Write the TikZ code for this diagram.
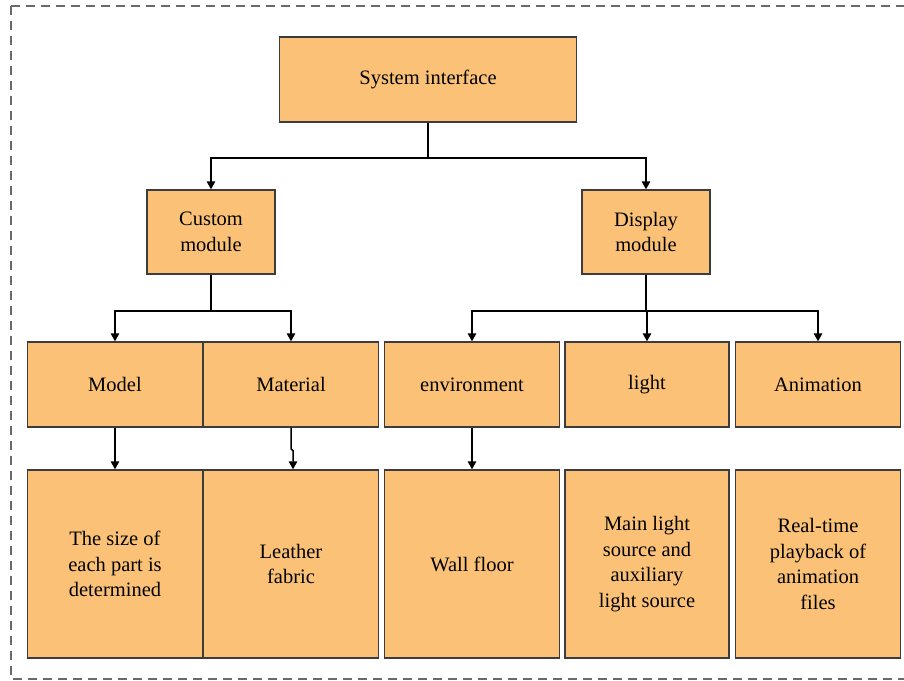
\documentclass[tikz,border=0pt]{standalone}
\usepackage{fontspec}
\setmainfont{Liberation Serif}
\usetikzlibrary{arrows.meta}
\definecolor{boxfill}{HTML}{FBC277}
\definecolor{boxline}{HTML}{3C3C3C}
\definecolor{frameline}{HTML}{6A6A6A}
\tikzset{
  blk/.style={draw=boxline, line width=1.4pt, fill=boxfill, inner sep=2pt,
    align=center, font=\fontsize{20.5}{25.5}\selectfont},
  link/.style={line width=1.5pt, -{Triangle[width=8.5pt,length=8pt]}},
  plain/.style={line width=1.5pt}
}
\begin{document}
\begin{tikzpicture}[x=1pt,y=-1pt]
\useasboundingbox (0,0) rectangle (904,680);
% outer dashed frame
\draw[frameline, line width=1.4pt, dash pattern=on 9pt off 6pt] (11,6) -- (910,6);
\draw[frameline, line width=1.4pt, dash pattern=on 9pt off 6pt] (11,6) -- (11,679) -- (910,679);

% top level
\node[blk, minimum width=297pt, minimum height=85pt] (sys) at (428,79.5) {System interface};

% modules
\node[blk, minimum width=128pt, minimum height=84pt] (cust) at (211,232) {Custom\\module};
\node[blk, minimum width=128pt, minimum height=84pt] (disp) at (646,232) {Display\\module};

% second row
\node[blk, minimum width=175pt, minimum height=85pt] (model) at (115,384.5) {Model};
\node[blk, minimum width=175pt, minimum height=85pt] (mat) at (291,384.5) {Material};
\node[blk, minimum width=175pt, minimum height=85pt] (env) at (472,384.5) {environment};
\node[blk, minimum width=164pt, minimum height=85pt] (light) at (647,384.5) {light};
\node[blk, minimum width=165pt, minimum height=85pt] (anim) at (818,384.5) {Animation};

% third row
\node[blk, minimum width=175pt, minimum height=188pt] (size) at (115,564) {The size of\\each part is\\determined};
\node[blk, minimum width=175pt, minimum height=188pt] (leather) at (291,564) {Leather\\fabric};
\node[blk, minimum width=175pt, minimum height=188pt] (wall) at (472,564) {Wall floor};
\node[blk, minimum width=164pt, minimum height=188pt] (mainl) at (647,564) {Main light\\source and\\auxiliary\\light source};
\node[blk, minimum width=165pt, minimum height=188pt] (play) at (818,564) {Real-time\\playback of\\animation\\files};

% junction points
\coordinate (j0) at (428,158);
\coordinate (j1) at (211,311);
\coordinate (j2) at (646,311);

% system interface to modules
\draw[plain] (sys.south) -- (j0);
\draw[link] (j0) -| (cust.north);
\draw[link] (j0) -| (disp.north);

% custom module branches
\draw[plain] (cust.south) -- (j1);
\draw[link] (j1) -| (model.north);
\draw[link] (j1) -| (mat.north);

% display module branches
\draw[plain] (disp.south) -- (j2);
\draw[link] (j2) -| (env.north);
\draw[link] (j2) -| (light.north);
\draw[link] (j2) -| (anim.north);

% second row to third row
\draw[link] (model.south) -- (size.north);
\draw[link] (mat.south) -- ++(0,21) -- ++(2,2) -- ([xshift=2pt]leather.north);
\draw[link] (env.south) -- (wall.north);
\end{tikzpicture}
\end{document}
